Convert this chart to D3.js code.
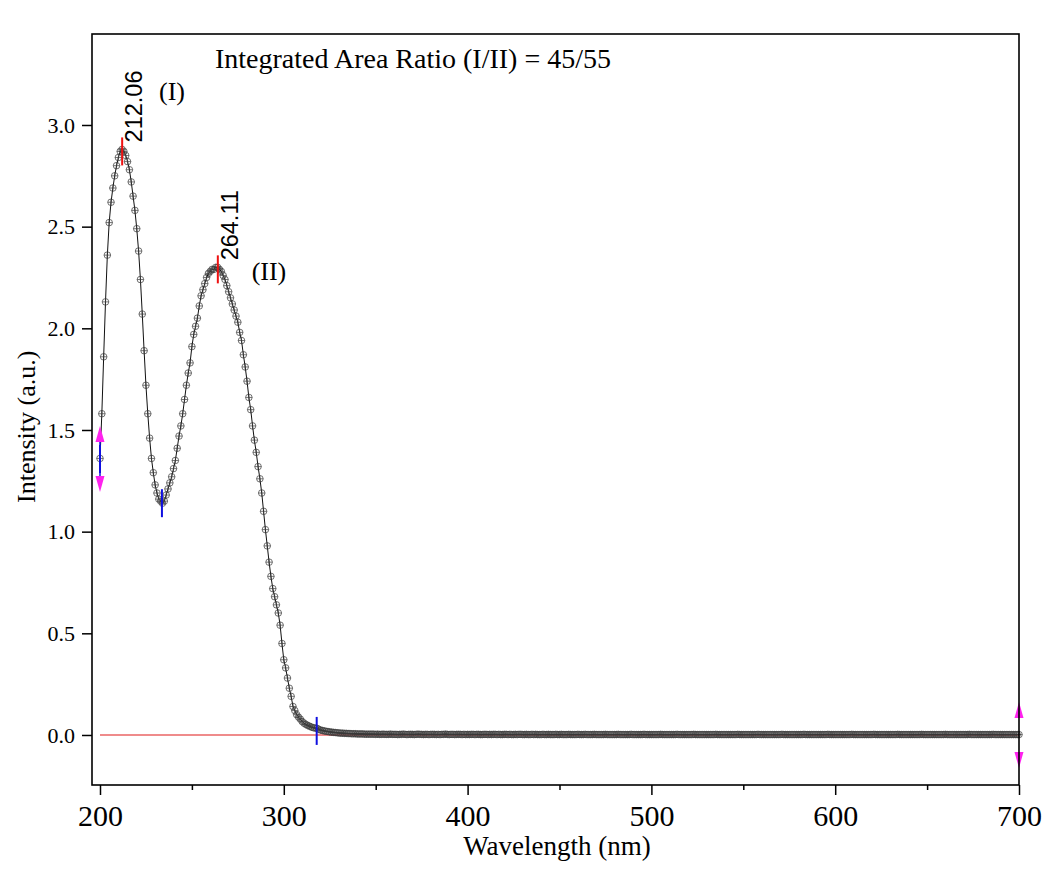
<!DOCTYPE html>
<html>
<head>
<meta charset="utf-8">
<script src="https://cdn.jsdelivr.net/npm/d3@7/dist/d3.min.js"></script>
<style>
  html, body { margin: 0; padding: 0; background: #ffffff; }
  svg { display: block; font-family: "Liberation Serif", "Times New Roman", serif; }
</style>
</head>
<body>
<svg id="chart" width="1047" height="871"></svg>
<script>
// ---------------- data ----------------
const startNm = 200;           // first wavelength of the spectrum
const stepNm = 1;              // sampling step (nm)
// Intensity (a.u.) from 200 nm to 700 nm, 1 nm step
const intensity = [
  // 200-209
  1.36,1.58,1.86,2.13,2.36,2.52,2.62,2.69,2.75,2.80,
  // 210-219
  2.84,2.87,2.88,2.87,2.85,2.82,2.78,2.72,2.65,2.58,
  // 220-229
  2.49,2.38,2.24,2.07,1.89,1.72,1.58,1.46,1.36,1.29,
  // 230-239
  1.23,1.19,1.16,1.15,1.14,1.15,1.18,1.21,1.24,1.27,
  // 240-249
  1.31,1.35,1.41,1.47,1.52,1.58,1.65,1.72,1.78,1.83,
  // 250-259
  1.91,1.97,2.01,2.05,2.11,2.16,2.19,2.22,2.25,2.27,
  // 260-269
  2.28,2.29,2.29,2.30,2.30,2.29,2.28,2.26,2.24,2.21,
  // 270-279
  2.18,2.15,2.12,2.09,2.06,2.03,1.98,1.94,1.87,1.81,
  // 280-289
  1.74,1.66,1.60,1.52,1.45,1.39,1.32,1.26,1.19,1.10,
  // 290-299
  1.01,0.93,0.85,0.78,0.72,0.68,0.64,0.60,0.54,0.45,
  // 300-309
  0.37,0.33,0.28,0.23,0.19,0.14,0.12,0.10,0.088,0.078,
  // 310-320
  0.066,0.058,0.052,0.047,0.043,0.039,0.036,0.034,0.033,0.028,0.024,
  // 321-340
  0.022,0.020,0.018,0.017,0.015,0.014,0.013,0.012,0.011,0.010,0.009,0.009,0.008,0.008,0.007,0.007,0.006,0.006,0.006,0.005,
  // 341-360
  0.005,0.005,0.005,0.004,0.004,0.004,0.004,0.004,0.004,0.003,0.004,0.003,0.003,0.004,0.003,0.003,0.003,0.004,0.003,0.003,
  // 361-380
  0.003,0.002,0.003,0.003,0.004,0.003,0.002,0.003,0.003,0.003,0.002,0.003,0.004,0.003,0.003,0.002,0.003,0.003,0.002,0.003,
  // 381-400
  0.003,0.003,0.002,0.003,0.002,0.003,0.003,0.004,0.003,0.002,0.003,0.003,0.002,0.003,0.003,0.003,0.002,0.003,0.002,0.003,
  // 401-420
  0.002,0.003,0.003,0.002,0.003,0.003,0.002,0.002,0.003,0.003,0.002,0.003,0.002,0.003,0.003,0.002,0.003,0.002,0.002,0.003,
  // 421-440
  0.003,0.002,0.003,0.002,0.002,0.003,0.002,0.003,0.003,0.002,0.002,0.003,0.002,0.002,0.003,0.002,0.003,0.002,0.002,0.002,
  // 441-460
  0.003,0.002,0.002,0.003,0.002,0.002,0.002,0.003,0.002,0.002,0.003,0.002,0.002,0.002,0.003,0.002,0.002,0.002,0.002,0.003,
  // 461-480
  0.002,0.002,0.002,0.003,0.002,0.002,0.002,0.002,0.003,0.002,0.002,0.002,0.002,0.002,0.003,0.002,0.002,0.002,0.002,0.002,
  // 481-500
  0.002,0.003,0.002,0.002,0.002,0.002,0.002,0.002,0.003,0.002,0.002,0.002,0.002,0.002,0.002,0.003,0.002,0.002,0.002,0.002,
  // 501-520
  0.002,0.002,0.002,0.002,0.003,0.002,0.002,0.002,0.002,0.002,0.002,0.002,0.002,0.003,0.002,0.002,0.002,0.002,0.002,0.002,
  // 521-540
  0.002,0.002,0.003,0.002,0.002,0.002,0.002,0.002,0.002,0.002,0.002,0.002,0.002,0.002,0.003,0.002,0.002,0.002,0.002,0.002,
  // 541-560
  0.002,0.002,0.002,0.002,0.002,0.002,0.003,0.002,0.002,0.002,0.002,0.002,0.002,0.002,0.002,0.002,0.002,0.003,0.002,0.002,
  // 561-580
  0.002,0.002,0.002,0.002,0.002,0.002,0.002,0.002,0.002,0.002,0.003,0.002,0.002,0.002,0.002,0.002,0.002,0.002,0.002,0.002,
  // 581-600
  0.002,0.002,0.003,0.002,0.002,0.002,0.002,0.002,0.002,0.002,0.002,0.002,0.002,0.002,0.002,0.003,0.002,0.002,0.002,0.002,
  // 601-620
  0.002,0.002,0.002,0.002,0.002,0.002,0.002,0.002,0.003,0.002,0.002,0.002,0.002,0.002,0.002,0.002,0.002,0.002,0.002,0.002,
  // 621-640
  0.003,0.002,0.002,0.002,0.002,0.002,0.002,0.002,0.002,0.002,0.002,0.002,0.002,0.003,0.002,0.002,0.002,0.002,0.002,0.002,
  // 641-660
  0.002,0.002,0.002,0.002,0.002,0.002,0.003,0.002,0.002,0.002,0.002,0.002,0.002,0.002,0.002,0.002,0.002,0.002,0.002,0.003,
  // 661-680
  0.002,0.002,0.002,0.002,0.002,0.002,0.002,0.002,0.002,0.002,0.002,0.002,0.003,0.002,0.002,0.002,0.002,0.002,0.002,0.002,
  // 681-700
  0.002,0.002,0.002,0.002,0.002,0.003,0.002,0.002,0.002,0.002,0.002,0.002,0.002,0.002,0.002,0.002,0.002,0.002,0.002,0.002
];

const xTicksMajor = [200, 300, 400, 500, 600, 700];
const xTicksMinor = [250, 350, 450, 550, 650];
const yTicks = [0.0, 0.5, 1.0, 1.5, 2.0, 2.5, 3.0];

// peak markers
const peakNm = [212.06, 264.11];
const peakVal = [2.87, 2.29];
const peakText = ["212.06", "264.11"];
const peakTag = ["(I)", "(II)"];
// baseline anchor points (blue marks) and the two end handles (magenta)
const anchorNm = [200, 233.7, 317.9];
const anchorVal = [1.357, 1.14, 0.02];
const handleNm = [200, 700];
const handleVal = [1.357, 0.0];

const titleText = "Integrated Area Ratio (I/II) = 45/55";
const xTitle = "Wavelength (nm)";
const yTitle = "Intensity (a.u.)";

// ---------------- drawing ----------------
const svg = d3.select("#chart");
const W = 1047, H = 871;
const plot = { left: 92, right: 1019, top: 34, bottom: 785 };

svg.append("rect").attr("width", W).attr("height", H).attr("fill", "#ffffff");

const x = d3.scaleLinear().domain([195.65, 700]).range([plot.left, plot.right]);
const y = d3.scaleLinear().domain([-0.246, 3.4475]).range([plot.bottom, plot.top]);

const data = intensity.map((v, i) => ({ nm: startNm + i * stepNm, v }));

// baseline (red)
svg.append("line")
  .attr("x1", x(200)).attr("x2", x(700))
  .attr("y1", y(0)).attr("y2", y(0))
  .attr("stroke", "#e01818").attr("stroke-width", 1.2);

// spectrum line
const line = d3.line().x(d => x(d.nm)).y(d => y(d.v));
svg.append("path").datum(data)
  .attr("d", line)
  .attr("fill", "none")
  .attr("stroke", "#111")
  .attr("stroke-width", 1);

// markers: open circle with crosshair
const mk = svg.append("g").attr("stroke", "#3a3a3a").attr("stroke-width", 0.7).attr("fill", "none");
const R = 3.3;
mk.selectAll("circle").data(data).join("circle")
  .attr("cx", d => x(d.nm)).attr("cy", d => y(d.v)).attr("r", R);
mk.selectAll("path").data(data).join("path")
  .attr("d", d => {
    const cx = x(d.nm), cy = y(d.v);
    return `M${cx - R},${cy}H${cx + R}M${cx},${cy - R}V${cy + R}`;
  });

// anchor marks (blue vertical lines)
anchorNm.forEach((nm, i) => {
  svg.append("line")
    .attr("x1", x(nm)).attr("x2", x(nm))
    .attr("y1", y(anchorVal[i]) - 14).attr("y2", y(anchorVal[i]) + 14)
    .attr("stroke", "#1010e0").attr("stroke-width", 2);
});

// magenta handles (up / down triangles)
handleNm.forEach((nm, i) => {
  const cx = x(nm), cy = y(handleVal[i]);
  if (i === 0) {
    svg.append("line").attr("x1", cx).attr("x2", cx)
      .attr("y1", cy - 17).attr("y2", cy + 17)
      .attr("stroke", "#1010e0").attr("stroke-width", 1.5);
  }
  svg.append("path")
    .attr("d", `M${cx},${cy - 33}L${cx + 4.5},${cy - 17}L${cx - 4.5},${cy - 17}Z`)
    .attr("fill", "#ff22ee");
  svg.append("path")
    .attr("d", `M${cx},${cy + 33}L${cx + 4.5},${cy + 17}L${cx - 4.5},${cy + 17}Z`)
    .attr("fill", "#ff22ee");
});

// peak markers (red) and labels
peakNm.forEach((nm, i) => {
  const px = x(nm), py = y(peakVal[i]);
  svg.append("line")
    .attr("x1", px).attr("x2", px)
    .attr("y1", py - 14).attr("y2", py + 14)
    .attr("stroke", "#ee1111").attr("stroke-width", 2);
  svg.append("text")
    .attr("transform", `translate(${px + 20},${py - 9}) rotate(-90)`)
    .style("font-family", '"Liberation Sans", Arial, sans-serif')
    .attr("font-size", 23.5)
    .attr("fill", "#000")
    .text(peakText[i]);
});

// (I) / (II) tags
svg.append("text").attr("x", x(232.1)).attr("y", y(3.123))
  .attr("font-size", 26).text(peakTag[0]);
svg.append("text").attr("x", x(282.5)).attr("y", y(2.238))
  .attr("font-size", 26).text(peakTag[1]);

// title annotation
svg.append("text").attr("x", 215).attr("y", 68)
  .attr("font-size", 28).text(titleText);

// axes
const gx = svg.append("g").attr("transform", `translate(0,${plot.bottom})`)
  .call(d3.axisBottom(x).tickValues(xTicksMajor).tickFormat(d3.format("d"))
    .tickSize(10).tickPadding(10).tickSizeOuter(0));
const gxm = svg.append("g").attr("transform", `translate(0,${plot.bottom})`)
  .call(d3.axisBottom(x).tickValues(xTicksMinor).tickFormat("")
    .tickSize(5).tickSizeOuter(0));
const gy = svg.append("g").attr("transform", `translate(${plot.left},0)`)
  .call(d3.axisLeft(y).tickValues(yTicks).tickFormat(d3.format(".1f"))
    .tickSize(10).tickPadding(7).tickSizeOuter(0));

[gx, gxm, gy].forEach(g => {
  g.select(".domain").remove();
  g.selectAll(".tick line").attr("stroke", "#000").attr("stroke-width", 1.5);
  g.selectAll("text").attr("fill", "#000")
    .style("font-family", '"Liberation Serif", "Times New Roman", serif');
});
gx.selectAll("text").attr("font-size", 30);
gy.selectAll("text").attr("font-size", 22);

// frame
svg.append("rect")
  .attr("x", plot.left).attr("y", plot.top)
  .attr("width", plot.right - plot.left).attr("height", plot.bottom - plot.top)
  .attr("fill", "none").attr("stroke", "#000").attr("stroke-width", 1.6);

// axis titles
svg.append("text").attr("x", 557).attr("y", 855)
  .attr("text-anchor", "middle").attr("font-size", 27).text(xTitle);
svg.append("text")
  .attr("transform", `translate(35,503) rotate(-90)`)
  .attr("font-size", 26).text(yTitle);
</script>
</body>
</html>
